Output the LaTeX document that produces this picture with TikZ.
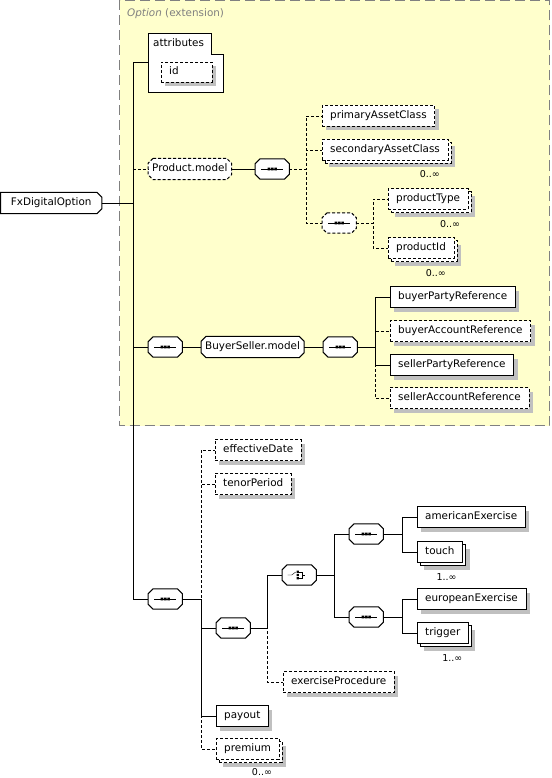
\documentclass[tikz,border=0pt]{standalone}
\usepackage{fontspec}
\setmainfont{DejaVu Sans}
\usetikzlibrary{positioning,calc,shadows}
\definecolor{extfill}{RGB}{255,255,204}
\definecolor{extline}{RGB}{128,128,128}
\definecolor{shadowgray}{RGB}{192,192,192}
\pgfdeclarelayer{area}
\pgfdeclarelayer{shapes}
\pgfsetlayers{area,shapes,main}
\tikzset{
  every node/.style={font=\fontsize{10.4}{12}\selectfont},
  optdash/.style={dash pattern=on 3pt off 2pt},
  dropshd/.style={drop shadow={shadow xshift=4pt,shadow yshift=-4pt,fill=shadowgray,opacity=1}},
  boxbase/.style={rectangle,minimum height=21pt,inner xsep=8pt,inner ysep=0pt,
    text height=8pt,text depth=2.5pt,anchor=west},
  elem/.style={boxbase,draw,fill=white,dropshd},
  opt/.style={elem,optdash},
  multi/.style={boxbase,draw,fill=white,
    drop shadow={shadow xshift=7pt,shadow yshift=-7pt,fill=shadowgray,opacity=1},
    copy shadow={shadow xshift=3pt,shadow yshift=-3pt,fill=white,draw=black,opacity=1,#1}},
  multi/.default=solid,
  optmulti/.style={multi=optdash,optdash},
  grpnode/.style={boxbase,inner xsep=4pt},
  compnode/.style={rectangle,minimum width=34pt,minimum height=20pt,inner sep=0pt,anchor=west},
  mult/.style={font=\fontsize{9.5}{11}\selectfont,anchor=east,inner sep=0pt}
}
% outline with cut corners: #1 style, #2 node, #3 cut of the left corners
\newcommand\champath[2]{($(#1.north west)+(#2,0)$) -- ($(#1.north east)+(-5,0)$)
  -- ($(#1.north east)+(0,5)$) -- ($(#1.south east)+(0,-5)$) -- ($(#1.south east)+(-5,0)$)
  -- ($(#1.south west)+(#2,0)$) -- ($(#1.south west)+(0,-#2)$) -- ($(#1.north west)+(0,#2)$) -- cycle}
\newcommand\chambox[3][]{%
  \begin{pgfonlayer}{shapes}
    \fill[shadowgray,shift={(4,4)}] \champath{#2}{#3};
    \draw[fill=white,line width=1pt,#1] \champath{#2}{#3};
  \end{pgfonlayer}}
\newcommand\seqicon[1]{%
  \begin{scope}[shift={(#1.center)}]
    \draw (-11,0) -- (11,0);
    \fill (-4.7,-1.3) rectangle (-2.1,1.3) (-1.3,-1.3) rectangle (1.3,1.3) (2.1,-1.3) rectangle (4.7,1.3);
  \end{scope}}
\newcommand\choiceicon[1]{%
  \begin{scope}[shift={(#1.center)}]
    \draw (-11.5,0) -- (-7.5,0) -- (-3.5,-3);
    \fill (-2.6,-4.3) rectangle (-0.4,-2.1) (-2.6,-1.1) rectangle (-0.4,1.1) (-2.6,2.1) rectangle (-0.4,4.3);
    \draw (-0.4,-3.2) -- (3,-3.2) -- (3,3.2) -- (-0.4,3.2) (3,0) -- (6,0);
  \end{scope}}
\begin{document}
\begin{tikzpicture}[x=1pt,y=-1pt,line width=1pt]
\useasboundingbox (0,0) rectangle (551,778);
% extension area
\begin{pgfonlayer}{area}
\draw[fill=extfill,draw=extline,line width=1pt,dash pattern=on 10pt off 5pt] (119.5,0.5) rectangle (549.5,425.5);
\end{pgfonlayer}
\node (extlabel) [anchor=west,inner sep=0pt,text=extline] at (127,14) {\textit{Option} (extension)};

% root
\node (root) [grpnode,minimum width=101pt] at (0.5,203) {FxDigitalOption};
\chambox{root}{0}

% attributes
\draw[fill=white] (148,33) -- (211,33) -- (211,54) -- (223,54) -- (223,92) -- (148,92) -- cycle;
\node (attributes) [anchor=west,inner sep=0pt] at (153,43) {attributes};
\coordinate (attr) at (148,62);
\node (id) [opt,minimum width=51pt,text width=35pt,minimum height=20pt] at (161,72) {id};

% Product.model
\node (productModel) [grpnode] at (148,169) {Product.model};
\chambox[optdash]{productModel}{5}
\node (seqP) [compnode] at (255,169) {};
\chambox{seqP}{5} \seqicon{seqP}
\node (primaryAssetClass) [opt] at (322,116) {primaryAssetClass};
\node (secondaryAssetClass) [optmulti] at (322,150) {secondaryAssetClass};
\node (seqPT) [compnode] at (322,223) {};
\chambox[optdash]{seqPT}{5} \seqicon{seqPT}
\node (productType) [optmulti] at (388,199) {productType};
\node (productId) [optmulti] at (388,248) {productId};

% BuyerSeller.model
\node (seqB) [compnode] at (148,347) {};
\chambox{seqB}{5} \seqicon{seqB}
\node (buyerSeller) [grpnode] at (201,347) {BuyerSeller.model};
\chambox{buyerSeller}{5}
\node (seqBS) [compnode] at (323,347) {};
\chambox{seqBS}{5} \seqicon{seqBS}
\node (buyerPartyReference) [elem] at (390,297) {buyerPartyReference};
\node (buyerAccountReference) [opt] at (390,331) {buyerAccountReference};
\node (sellerPartyReference) [elem] at (390,365) {sellerPartyReference};
\node (sellerAccountReference) [opt] at (390,398) {sellerAccountReference};

% option body
\node (seqM) [compnode] at (148,599) {};
\chambox{seqM}{5} \seqicon{seqM}
\node (effectiveDate) [opt] at (215,450) {effectiveDate};
\node (tenorPeriod) [opt] at (215,484) {tenorPeriod};
\node (seqE) [compnode] at (216,628) {};
\chambox{seqE}{5} \seqicon{seqE}
\node (choiceE) [compnode] at (282,575) {};
\chambox{choiceE}{5} \choiceicon{choiceE}
\node (seqAm) [compnode] at (349,534) {};
\chambox{seqAm}{5} \seqicon{seqAm}
\node (seqEu) [compnode] at (349,617) {};
\chambox{seqEu}{5} \seqicon{seqEu}
\node (americanExercise) [elem] at (417,517) {americanExercise};
\node (touch) [multi] at (417,552) {touch};
\node (europeanExercise) [elem] at (417,599) {europeanExercise};
\node (trigger) [multi] at (417,633) {trigger};
\node (exerciseProcedure) [opt] at (283,682) {exerciseProcedure};
\node (payout) [elem] at (216,716) {payout};
\node (premium) [optmulti] at (216,749) {premium};

% occurrences
\node (mSecondary) [mult] at ($(secondaryAssetClass.south east)+(-8,13)$) {0..∞};
\node (mType) [mult] at ($(productType.south east)+(-8,14)$) {0..∞};
\node (mId) [mult] at ($(productId.south east)+(-8,14)$) {0..∞};
\node (mTouch) [mult] at ($(touch.south east)+(-6,14)$) {1..∞};
\node (mTrigger) [mult] at ($(trigger.south east)+(-6,14)$) {1..∞};
\node (mPremium) [mult] at ($(premium.south east)+(-7,12)$) {0..∞};

% buses
\coordinate (bus0) at (133,0);
\coordinate (busP) at (306,0);
\coordinate (busPT) at (373,0);
\coordinate (busBS) at (375,0);
\coordinate (busM) at (201,0);
\coordinate (busE) at (267,0);
\coordinate (busC) at (334,0);
\coordinate (busCh) at (402,0);

% optional links first
\draw[optdash] (root.east) -- (root.east -| bus0) |- (productModel.west);
\draw[optdash] (seqP.east) -- (seqP.east -| busP) |- (primaryAssetClass.west);
\draw[optdash] (seqP.east) -- (seqP.east -| busP) |- (secondaryAssetClass.west);
\draw[optdash] (seqP.east) -- (seqP.east -| busP) |- (seqPT.west);
\draw[optdash] (seqPT.east) -- (seqPT.east -| busPT) |- (productType.west);
\draw[optdash] (seqPT.east) -- (seqPT.east -| busPT) |- (productId.west);
\draw[optdash] (seqBS.east) -- (seqBS.east -| busBS) |- (buyerAccountReference.west);
\draw[optdash] (seqBS.east) -- (seqBS.east -| busBS) |- (sellerAccountReference.west);
\draw[optdash] (seqM.east) -- (seqM.east -| busM) |- (effectiveDate.west);
\draw[optdash] (seqM.east) -- (seqM.east -| busM) |- (tenorPeriod.west);
\draw[optdash] (seqM.east) -- (seqM.east -| busM) |- (premium.west);
\draw[optdash] (seqE.east) -- (seqE.east -| busE) |- (exerciseProcedure.west);

% required links
\draw (root.east) -- (root.east -| bus0) |- (attr);
\draw (root.east) -- (root.east -| bus0) |- (seqB.west);
\draw (root.east) -- (root.east -| bus0) |- (seqM.west);
\draw (productModel) -- (seqP);
\draw (seqB) -- (buyerSeller) -- (seqBS);
\draw (seqBS.east) -- (seqBS.east -| busBS) |- (buyerPartyReference.west);
\draw (seqBS.east) -- (seqBS.east -| busBS) |- (sellerPartyReference.west);
\draw (seqM.east) -- (seqM.east -| busM) |- (seqE.west);
\draw (seqM.east) -- (seqM.east -| busM) |- (payout.west);
\draw (seqE.east) -- (seqE.east -| busE) |- (choiceE.west);
\draw (choiceE.east) -- (choiceE.east -| busC) |- (seqAm.west);
\draw (choiceE.east) -- (choiceE.east -| busC) |- (seqEu.west);
\draw (seqAm.east) -- (seqAm.east -| busCh) |- (americanExercise.west);
\draw (seqAm.east) -- (seqAm.east -| busCh) |- (touch.west);
\draw (seqEu.east) -- (seqEu.east -| busCh) |- (europeanExercise.west);
\draw (seqEu.east) -- (seqEu.east -| busCh) |- (trigger.west);
\end{tikzpicture}
\end{document}
